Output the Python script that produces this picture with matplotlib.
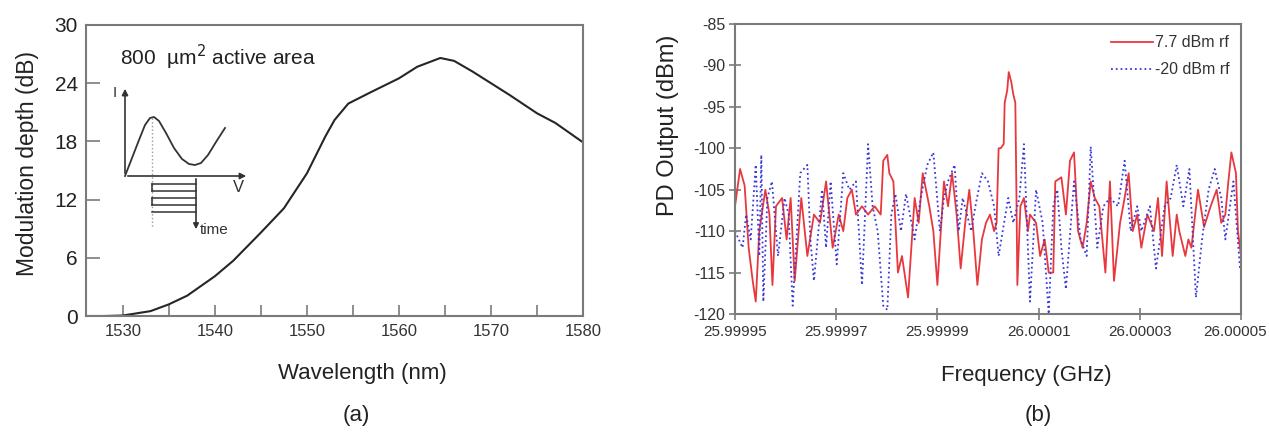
import matplotlib
matplotlib.use("Agg")
import matplotlib.pyplot as plt
import matplotlib.transforms as mtransforms
from matplotlib import font_manager

plt.rcParams["font.family"] = ["Liberation Sans", "DejaVu Sans"]
plt.rcParams["axes.unicode_minus"] = False

# ---- panel (a): modulation depth vs wavelength ----
wavelength = [1526, 1528, 1530, 1533, 1535, 1537, 1540, 1542, 1545, 1547.5,
              1550, 1552, 1553, 1554.5, 1557, 1560, 1562, 1564.5, 1566, 1568,
              1570, 1572, 1575, 1577, 1580]
mod_depth = [0.0, 0.0, 0.05, 0.5, 1.2, 2.1, 4.1, 5.7, 8.6, 11.1,
             14.7, 18.5, 20.2, 21.9, 23.1, 24.5, 25.7, 26.6, 26.3, 25.2,
             24.0, 22.8, 20.9, 19.9, 17.9]
a_yticks = [0, 6, 12, 18, 24, 30]
a_xticks = [1530, 1540, 1550, 1560, 1570, 1580]

# inset schematic (pixel units of the inset box)
inset_curve_x = [125, 132, 139, 145, 150, 154, 159, 166, 174, 182, 189, 195, 201, 208, 216, 225]
inset_curve_y = [176, 158, 140, 125, 118, 117, 121, 133, 148, 159, 164, 165, 163, 155, 142, 128]
inset_pulse_y = [184, 191, 198, 205, 212]

# ---- panel (b): PD output spectrum, offsets in kHz from 26 GHz ----
red_khz = [-50.0, -49.0, -48.1, -47.3, -46.5, -45.9, -45.2, -44.0, -43.2, -42.6,
           -41.9, -40.7, -39.8, -39.0, -38.2, -36.9, -35.7, -34.4, -33.2, -32.0,
           -30.7, -29.5, -28.6, -27.8, -26.9, -26.1, -24.9, -23.7, -22.4, -21.2,
           -20.7, -19.9, -19.5, -18.7, -17.8, -17.0, -15.8, -14.5, -13.7, -12.9,
           -11.6, -10.8, -10.0, -8.7, -7.9, -7.1, -6.2, -5.4, -4.5, -3.7,
           -2.9, -2.1, -1.2, -0.4, 0.4, 1.2, 1.7, 2.1, 2.5, 3.1,
           3.3, 3.8, 4.1, 4.6, 5.0, 5.4, 5.6, 5.8, 6.4, 7.1,
           7.9, 8.3, 9.5, 10.3, 11.2, 12.0, 12.9, 13.3, 14.5, 15.4,
           16.2, 17.0, 17.8, 18.7, 19.5, 20.3, 21.1, 22.0, 23.2, 24.1,
           24.9, 26.1, 27.0, 27.8, 28.6, 29.5, 30.3, 31.5, 32.8, 33.6,
           34.4, 35.3, 36.5, 37.3, 37.8, 39.0, 39.6, 40.2, 41.5, 42.7,
           44.0, 45.2, 46.1, 46.9, 47.5, 48.1, 49.0, 49.4, 50.0]
red_dbm = [-107, -102.5, -104.5, -112, -116, -118.5, -110, -105, -108, -116.5,
           -107, -106, -111, -106, -116, -106, -113, -108, -109, -104,
           -112, -108, -110, -106, -105, -108, -107, -108, -107, -108,
           -101.5, -100.8, -103, -104, -115, -113, -118, -106, -109, -103,
           -107, -110, -116.5, -104, -107, -103, -108, -114.5, -109, -105,
           -110, -116.5, -111, -109, -108, -110, -109, -100, -100, -99.5,
           -94.5, -93, -90.8, -92, -93.5, -94.5, -104.5, -116.5, -107, -106,
           -110, -108, -109, -113, -111, -115, -115, -104, -103.5, -108,
           -101.5, -100.5, -110, -112, -109, -104, -106, -107, -115, -104,
           -116, -109, -106, -103, -110, -108, -112, -108, -110, -106,
           -113, -104, -113, -108, -110, -113, -111, -112, -105, -109.5,
           -107, -105, -109, -108, -104, -100.5, -103, -110, -113]

blue_khz = [-50.0, -48.5, -47.8, -46.9, -45.9, -45.2, -44.8, -44.4, -43.6, -42.7,
            -41.5, -40.2, -39.4, -38.6, -37.1, -35.7, -35.1, -34.4, -32.8, -32.0,
            -31.1, -29.9, -28.6, -27.4, -26.1, -24.9, -23.7, -22.8, -21.8, -20.7,
            -19.9, -19.1, -18.3, -17.2, -16.2, -14.5, -13.3, -12.0, -10.8, -9.5,
            -8.7, -7.9, -6.6, -5.8, -5.0, -3.3, -2.5, -1.2, 0.0, 1.2,
            2.1, 2.9, 4.0, 5.0, 6.2, 7.1, 8.3, 9.5, 10.8, 12.0,
            12.9, 13.7, 14.5, 15.4, 17.0, 18.3, 19.5, 20.3, 21.6, 22.8,
            24.1, 25.7, 27.0, 28.2, 29.5, 30.3, 32.0, 33.2, 34.9, 36.1,
            37.3, 38.6, 39.8, 41.1, 42.3, 43.6, 44.8, 46.1, 46.9, 48.5,
            49.8]
blue_dbm = [-110, -112, -108, -111, -102, -113, -100.8, -118.5, -106, -104,
            -113, -106, -108, -119, -103, -102, -111, -116, -105, -112,
            -104, -114, -103, -105, -104, -116.5, -99.5, -107, -110, -119,
            -119.5, -108, -105.5, -110, -105.5, -111, -106, -102, -100.5, -110,
            -106, -104, -102, -110, -106, -110, -107, -103, -104, -107,
            -113, -110, -106, -109, -106, -99.5, -118.5, -105, -109, -120,
            -107, -105, -112, -117, -104, -111, -113, -99.8, -112, -107,
            -106, -107, -101.5, -110, -107, -110, -107, -114.5, -107, -106,
            -102, -107, -102.5, -118, -111, -105, -102.5, -106, -111, -104,
            -114.5]
b_xticks = [-50, -30, -10, 10, 30, 50]
b_xticklabels = ["25.99995", "25.99997", "25.99999", "26.00001", "26.00003", "26.00005"]
b_yticks = [-120, -115, -110, -105, -100, -95, -90, -85]

FRAME = "#7a7a7a"
TXT = "#222222"

fig = plt.figure(figsize=(12.69, 4.32), dpi=100)

# ---------- (a) ----------
ax1 = fig.add_axes([86 / 1269, 1 - 316 / 432, 497 / 1269, 291 / 432])
ax1.plot(wavelength, mod_depth, color="#262626", linewidth=1.5)
ax1.set_xlim(1526, 1580)
ax1.set_ylim(0, 30)
ax1.set_xticks(a_xticks)
ax1.set_xticks([w + 5 for w in a_xticks[:-1]], minor=True)
ax1.set_yticks(a_yticks)
ax1.tick_params(axis="both", which="both", direction="in", color=FRAME, width=1.2)
ax1.tick_params(axis="x", which="both", length=8)
ax1.tick_params(axis="x", labelsize=12, labelcolor="#333333", pad=6)
ax1.tick_params(axis="y", length=10, pad=6, labelsize=15, labelcolor=TXT)
for sp in ax1.spines.values():
    sp.set_color(FRAME)
    sp.set_linewidth(1.5)

fig.text(120 / 1269, 1 - 57 / 432, "800  \u00b5m$^2$ active area", fontsize=15,
         va="center", ha="left", color=TXT)
fig.text(28 / 1269, 1 - 163 / 432, "Modulation depth (dB)", rotation=90,
         fontsize=16.5, ha="center", va="center", color=TXT)
fig.text(362 / 1269, 1 - 373 / 432, "Wavelength (nm)", fontsize=16,
         ha="center", va="center", color=TXT)
fig.text(356 / 1269, 1 - 415 / 432, "(a)", fontsize=16,
         ha="center", va="center", color=TXT)

# inset schematic
axi = fig.add_axes([105 / 1269, 1 - 240 / 432, 155 / 1269, 160 / 432])
axi.set_xlim(105, 260)
axi.set_ylim(240, 80)
axi.axis("off")
ink = "#333333"
axi.annotate("", xy=(125, 86), xytext=(125, 176),
             arrowprops=dict(arrowstyle="-|>", color=ink, lw=1.2, mutation_scale=9))
axi.annotate("", xy=(249, 176), xytext=(125, 176),
             arrowprops=dict(arrowstyle="-|>", color=ink, lw=1.2, mutation_scale=9))
axi.plot(inset_curve_x, inset_curve_y, color=ink, lw=1.3)
axi.plot([152, 152], [118, 228], color="#999999", lw=1.0, linestyle=":")
for yy in inset_pulse_y:
    axi.plot([152, 196], [yy, yy], color=ink, lw=1.1)
for y0, y1 in zip(inset_pulse_y[0::2], inset_pulse_y[1::2]):
    axi.plot([152, 152], [y0, y1], color=ink, lw=1.1)
axi.annotate("", xy=(196, 232), xytext=(196, 176),
             arrowprops=dict(arrowstyle="-|>", color=ink, lw=1.2, mutation_scale=8))
axi.text(200, 230, "time", fontsize=11, va="center", ha="left", color=ink)
axi.text(115, 93, "I", fontsize=11, va="center", ha="center", color=ink)
axi.text(238, 188, "V", fontsize=12, va="center", ha="center", color=ink)

# ---------- (b) ----------
ax2 = fig.add_axes([735 / 1269, 1 - 314 / 432, 506 / 1269, 290 / 432])
ax2.plot(red_khz, red_dbm, color="#e8383d", linewidth=1.3, label="7.7 dBm rf")
ax2.plot(blue_khz, blue_dbm, color="#3a3ad6", linewidth=1.3, linestyle=":",
         label="-20 dBm rf")
ax2.set_xlim(-50, 50)
ax2.set_ylim(-120, -85)
ax2.set_xticks(b_xticks)
ax2.set_xticklabels(b_xticklabels)
ax2.set_yticks(b_yticks)
ax2.tick_params(axis="both", direction="inout", length=8, color=FRAME, width=1.2)
ax2.tick_params(axis="x", labelsize=11, labelcolor="#333333", pad=4)
ax2.tick_params(axis="y", labelsize=11.5, labelcolor="#333333", pad=3)
# nudge the last frequency label so it stays inside the canvas
last = ax2.get_xticklabels()[-1]
last.set_transform(last.get_transform() +
                   mtransforms.ScaledTranslation(-6 / 100, 0, fig.dpi_scale_trans))
for sp in ax2.spines.values():
    sp.set_color(FRAME)
    sp.set_linewidth(1.5)
leg = ax2.legend(loc="upper right", frameon=False, handlelength=2.6,
                 handletextpad=0.15, labelspacing=0.75, borderaxespad=0.3,
                 prop=font_manager.FontProperties(size=11.5))
for t in leg.get_texts():
    t.set_color("#333333")

fig.text(668 / 1269, 1 - 125 / 432, "PD Output (dBm)", rotation=90,
         fontsize=17, ha="center", va="center", color=TXT)
fig.text(1026 / 1269, 1 - 375 / 432, "Frequency (GHz)", fontsize=16,
         ha="center", va="center", color=TXT)
fig.text(1038 / 1269, 1 - 415 / 432, "(b)", fontsize=16,
         ha="center", va="center", color=TXT)

fig.savefig("out.png", dpi=100, facecolor="white")
